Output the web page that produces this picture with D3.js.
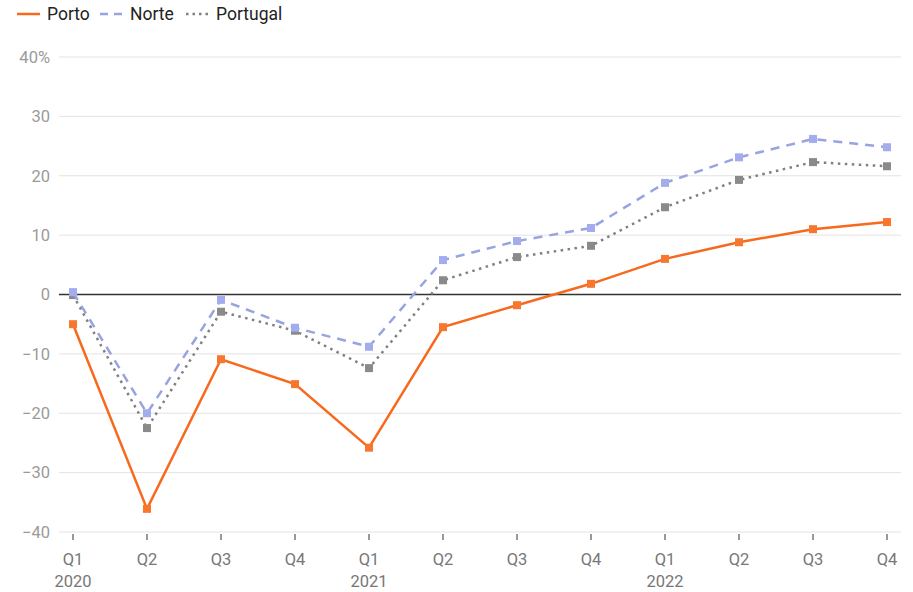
<!DOCTYPE html>
<html><head><meta charset="utf-8">
<script src="https://cdn.jsdelivr.net/npm/d3@7"></script>
<style>body{margin:0;background:#fff;font-family:Roboto,"Noto Sans",sans-serif;}</style>
</head><body><svg id="c" width="913" height="592"></svg>
<script>
const quarters = ["Q1","Q2","Q3","Q4","Q1","Q2","Q3","Q4","Q1","Q2","Q3","Q4"];
const years = ["2020","","","","2021","","","","2022","","",""];
const porto = [-5.0,-36.1,-10.9,-15.1,-25.8,-5.5,-1.8,1.8,6.0,8.8,11.0,12.2];
const norte = [0.4,-20.0,-0.9,-5.6,-8.8,5.8,9.0,11.2,18.8,23.1,26.2,24.8];
const portugal = [-0.1,-22.5,-2.9,-6.1,-12.4,2.4,6.3,8.2,14.7,19.3,22.3,21.6];
const yTicks = [40,30,20,10,0,-10,-20,-30,-40];
const seriesNames = ["Porto","Norte","Portugal"];
const colors = ["#f7691d","#98a3e1","#808080"];
const dashes = [null,"9,7","2.5,4.5"];
const markerColors = ["#f7772f","#a3acec","#8a8a8a"];

const svg = d3.select("#c");
const x = d3.scalePoint().domain(d3.range(12)).range([73,887]);
const y = d3.scaleLinear().domain([-40,40]).range([532,57]);

svg.append("g").selectAll("line").data(yTicks.filter(d=>d!==0)).join("line")
  .attr("x1",59).attr("x2",901).attr("y1",d=>y(d)).attr("y2",d=>y(d))
  .attr("stroke","#e3e3e3").attr("stroke-width",1);
svg.append("g").selectAll("text").data(yTicks).join("text")
  .attr("x",50).attr("y",d=>y(d)).attr("dy","0.35em").attr("text-anchor","end")
  .attr("fill","#9a9a9a").attr("font-size",16.5)
  .text(d=>d===40?"40%":(d<0?"\u2212"+(-d):d));
svg.append("g").selectAll("line").data(d3.range(12)).join("line")
  .attr("x1",d=>x(d)).attr("x2",d=>x(d)).attr("y1",534).attr("y2",540)
  .attr("stroke","#333").attr("stroke-width",1);
svg.append("g").selectAll("text").data(d3.range(12)).join("text")
  .attr("x",d=>x(d)).attr("y",565).attr("text-anchor","middle")
  .attr("fill","#777").attr("font-size",16.5).text(d=>quarters[d]);
svg.append("g").selectAll("text").data(d3.range(12)).join("text")
  .attr("x",d=>x(d)).attr("y",587).attr("text-anchor","middle")
  .attr("fill","#777").attr("font-size",16.5).text(d=>years[d]);
svg.append("line").attr("x1",59).attr("x2",901).attr("y1",y(0)).attr("y2",y(0))
  .attr("stroke","#333").attr("stroke-width",1.5);

const data = [porto,norte,portugal];
const line = d3.line().x((d,i)=>x(i)).y(d=>y(d));
[2,1,0].forEach(k=>{
  const g = svg.append("g");
  g.append("path").attr("d",line(data[k])).attr("fill","none")
    .attr("stroke",colors[k]).attr("stroke-width",2.5)
    .attr("stroke-dasharray",dashes[k]);
  g.selectAll("rect").data(data[k]).join("rect")
    .attr("x",(d,i)=>x(i)-4).attr("y",d=>y(d)-4).attr("width",8).attr("height",8)
    .attr("fill",markerColors[k]);
});

const legX = [17,100,186];
const legG = svg.append("g");
seriesNames.forEach((n,k)=>{
  legG.append("line").attr("x1",legX[k]).attr("x2",legX[k]+23).attr("y1",14).attr("y2",14)
    .attr("stroke",colors[k]).attr("stroke-width",2.5).attr("stroke-dasharray",k===1?"8,6":(k===2?"2.5,4":null));
  legG.append("text").attr("x",legX[k]+30).attr("y",14).attr("dy","0.35em")
    .attr("fill","#222").attr("font-size",17.5).text(n);
});
</script></body></html>
